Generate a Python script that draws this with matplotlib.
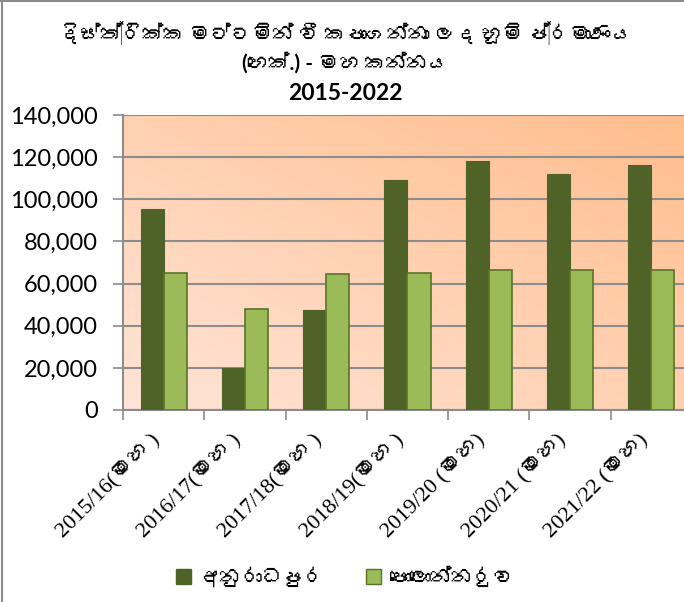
import numpy as np
import matplotlib
matplotlib.use('Agg')
import matplotlib.pyplot as plt
from matplotlib import font_manager
from matplotlib.ft2font import FT2Font
from matplotlib.colors import LinearSegmentedColormap
from matplotlib.patches import Patch

seasons = ['2015/16(මහ )', '2016/17(මහ )', '2017/18(මහ )', '2018/19(මහ )',
           '2019/20 (මහ)', '2020/21 (මහ)', '2021/22 (මහ)']
anuradhapura = [95500, 19900, 47400, 109000, 118200, 112200, 116300]
polonnaruwa = [65100, 47800, 64700, 65100, 66400, 66300, 66300]
series_names = ['අනුරාධපුර', 'පොලොන්නරුව']
title_lines = ['දිස්ත්‍රික්ක මට්ටමින් වී කපාගන්නා ලද භූමි ප්‍රමාණය',
               '(හෙක්.) - මහ කන්නය', '2015-2022']


def find_sinhala_font():
    # look for any installed font that actually has sinhala glyphs
    for f in font_manager.fontManager.ttflist:
        try:
            cmap = FT2Font(f.fname).get_charmap()
        except Exception:
            continue
        if 0x0DC3 in cmap and 0x0D9A in cmap:
            return f.name
    return None


sinhala = find_sinhala_font()
sans = ['Lato', 'DejaVu Sans']
serif = ['Liberation Serif', 'DejaVu Serif']
if sinhala:
    sans = ['Lato', sinhala, 'DejaVu Sans']
    serif = ['Liberation Serif', sinhala, 'DejaVu Serif']
plt.rcParams['font.family'] = sans

fig = plt.figure(figsize=(6.84, 6.02), dpi=100)
ax = fig.add_axes([123 / 684, 192 / 602, 569 / 684, 295 / 602])

# diagonal peach gradient behind the bars
grad = LinearSegmentedColormap.from_list('peach', ['#FFE4D7', '#FFBD8C'])
xx, yy = np.meshgrid(np.linspace(0, 1, 200), np.linspace(0, 1, 200))
ax.imshow(xx * 0.5 + yy * 0.5, cmap=grad, origin='lower', aspect='auto',
          extent=[0, 1, 0, 1], transform=ax.transAxes, zorder=0)

x = np.arange(len(seasons))
w = 0.283
ax.bar(x - w / 2, anuradhapura, w, color='#4F6228', edgecolor='#4F6228',
       linewidth=0.8, zorder=3)
ax.bar(x + w / 2, polonnaruwa, w, color='#9BBB59', edgecolor='#5A7328',
       linewidth=1.2, zorder=3)

ax.set_xlim(-0.5, len(seasons) - 0.5)
ax.set_ylim(0, 140000)
ax.set_yticks(np.arange(0, 140001, 20000))
ax.set_yticklabels([f'{v:,}' for v in range(0, 140001, 20000)], fontsize=17)
ax.yaxis.grid(True, color='#8C8C8C', linewidth=1.5, zorder=1)

ax.set_xticks(np.arange(-0.5, len(seasons)), minor=False)
ax.set_xticklabels([])
ax.set_xticks(x, minor=True)
ax.set_xticklabels(seasons, minor=True, rotation=45, ha='right', va='top',
                   fontsize=16, family=serif)
ax.tick_params(axis='x', which='minor', length=0, pad=14)
ax.tick_params(axis='x', which='major', length=7, color='#8C8C8C', width=1.2)
ax.tick_params(axis='y', length=7, color='#8C8C8C', width=1.2, pad=11)

for side in ['top', 'right']:
    ax.spines[side].set_visible(False)
for side in ['left', 'bottom']:
    ax.spines[side].set_color('#8C8C8C')
    ax.spines[side].set_linewidth(1.5)

title_y = [33, 63, 94]
title_size = [15, 15, 16.5]
for line, ypix, fs in zip(title_lines, title_y, title_size):
    fig.text(0.505, 1 - ypix / 602, line, ha='center', va='center',
             fontsize=fs, fontweight='bold')

handles = [Patch(facecolor='#4F6228', edgecolor='#4F6228'),
           Patch(facecolor='#9BBB59', edgecolor='#5A7328')]
fig.legend(handles, series_names, loc='center', bbox_to_anchor=(0.505, 0.04),
           ncol=2, frameon=False, handlelength=0.7, handleheight=0.7,
           columnspacing=2.0, handletextpad=0.4,
           prop={'family': serif, 'size': 15})

# chart frame, visible only on the left and top
fig.add_artist(plt.Line2D([0.003, 0.003], [0, 1], color='#8C8C8C', lw=1.5))
fig.add_artist(plt.Line2D([0, 1], [0.998, 0.998], color='#8C8C8C', lw=1.5))

fig.savefig('out.png', dpi=100)
